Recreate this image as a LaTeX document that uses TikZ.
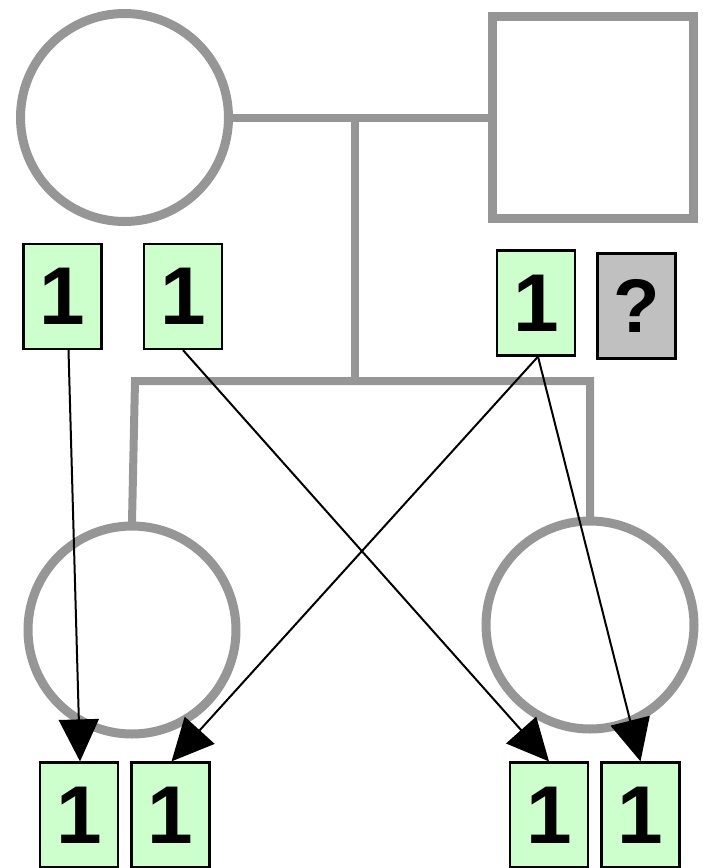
\documentclass[tikz,border=0pt]{standalone}
\usepackage{fontspec}
\setmainfont{Liberation Sans}
\usetikzlibrary{arrows.meta}
\definecolor{pedgray}{HTML}{969696}
\definecolor{allelegreen}{HTML}{CCFFCC}
\definecolor{unkgray}{HTML}{C0C0C0}
\begin{document}
\begin{tikzpicture}[x=1pt,y=-1pt,
  person/.style={draw=pedgray,line width=9pt,fill=white,inner sep=0pt},
  female/.style={person,circle,minimum size=208pt},
  male/.style={person,rectangle,minimum width=201pt,minimum height=202pt},
  pline/.style={draw=pedgray,line width=8pt},
  allele/.style={draw=black,line width=2.2pt,fill=allelegreen,rectangle,minimum width=78pt,minimum height=105pt,inner sep=0pt,font=\fontsize{82}{82}\selectfont\bfseries},
  unknown/.style={allele,fill=unkgray,font=\fontsize{76}{76}\selectfont\bfseries},
  inherit/.style={draw=black,line width=2pt,-{Triangle[length=42pt,width=40pt]}}]
\useasboundingbox (0,0) rectangle (703,868);
% parents
\node[female] (mother) at (124.5,117.5) {};
\node[male] (father) at (592.5,117.5) {};
\draw[pline] (mother.east) -- (father.west);
\coordinate (mid) at (355,117.5);
\coordinate (sib) at (355,381);
\coordinate (sibL) at (135,381);
\coordinate (sibR) at (590,381);
\draw[pline] (mid) -- (sib);
% children
\node[female] (d1) at (132,630) {};
\node[female] (d2) at (590,625) {};
\draw[pline,line cap=rect] (d1.north) -- (sibL) -- (sibR) -- (d2.north);
% alleles
\node[allele] (m1) at (62.5,296.5) {1};
\node[allele] (m2) at (183,296.5) {1};
\node[allele] (f1) at (536,303) {1};
\node[unknown] (f2) at (636.5,306) {?};
\node[allele] (a1) at (79,815) {1};
\node[allele] (a2) at (170.5,815) {1};
\node[allele] (b1) at (549,815) {1};
\node[allele] (b2) at (640.5,815) {1};
% inheritance
\draw[inherit] ([xshift=6pt]m1.south) -- ([xshift=1pt]a1.north);
\draw[inherit] (m2.south) -- (b1.north);
\draw[inherit] ([xshift=2pt]f1.south) -- ([xshift=1pt]a2.north);
\draw[inherit] ([xshift=2pt]f1.south) -- (b2.north);
\end{tikzpicture}
\end{document}
